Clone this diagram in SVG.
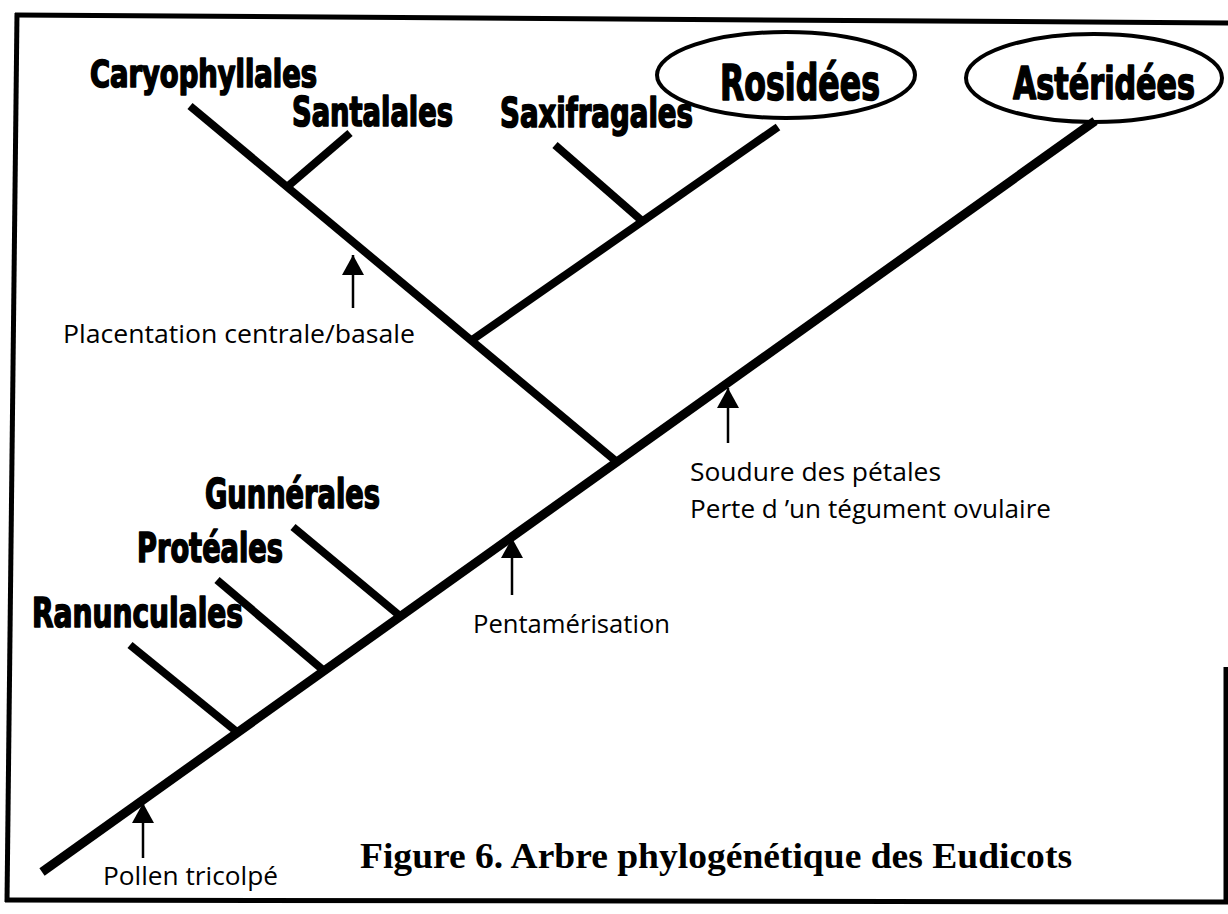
<svg xmlns="http://www.w3.org/2000/svg" width="1228" height="914" viewBox="0 0 1228 914">
<defs>
<marker id="ah" markerUnits="userSpaceOnUse" markerWidth="22" markerHeight="24" refX="20" refY="11" orient="auto">
<path d="M0,0 L20,11 L0,22 z" fill="#000"/>
</marker>
<style>
.br{stroke:#000;stroke-width:8;stroke-linecap:butt;fill:none}
.main{stroke:#000;stroke-width:9;fill:none}
.bd{stroke:#000;stroke-width:5;fill:none}
.ar{stroke:#000;stroke-width:2.5;fill:none;marker-end:url(#ah)}
.big{font-family:"Liberation Sans Narrow","DejaVu Sans Condensed","Liberation Sans",sans-serif;font-weight:bold;fill:#000;stroke:#000;stroke-width:1.6;stroke-linejoin:round}
.sm{font-family:"Open Sans","Liberation Sans",sans-serif;font-size:25px;fill:#000}
.ttl{font-family:"Liberation Serif",serif;font-weight:bold;font-size:36px;fill:#000}
.el{fill:none;stroke:#000;stroke-width:4}
</style>
</defs>
<rect width="1228" height="914" fill="#fff"/>
<g id="border">
<path class="bd" d="M15,15 L1228,23"/>
<path class="bd" d="M17,13 L7,902"/>
<path class="bd" d="M5,900 L1228,902"/>
<path class="bd" d="M1226,667 L1226,902"/>
</g>
<g id="connectors">
<line class="main" x1="42" y1="872" x2="1095" y2="121"/>
<line class="br" x1="190" y1="106" x2="617" y2="462"/>
<line class="br" x1="350" y1="133" x2="287" y2="187"/>
<line class="br" x1="778" y1="127" x2="472" y2="340"/>
<line class="br" x1="555" y1="145" x2="641" y2="220"/>
<line class="br" x1="293" y1="527" x2="400" y2="616"/>
<line class="br" x1="217" y1="580" x2="323" y2="670"/>
<line class="br" x1="130" y1="645" x2="237" y2="732"/>
</g>
<g id="arrows">
<line class="ar" x1="353" y1="308" x2="353" y2="255"/>
<line class="ar" x1="728" y1="443" x2="728" y2="388"/>
<line class="ar" x1="512" y1="595" x2="512" y2="538"/>
<line class="ar" x1="143" y1="858" x2="143" y2="803"/>
</g>
<g id="caryophyllales"><text class="big" x="90" y="87" font-size="37" textLength="227" lengthAdjust="spacingAndGlyphs">Caryophyllales</text></g>
<g id="santalales"><text class="big" x="292" y="126" font-size="40" textLength="161" lengthAdjust="spacingAndGlyphs">Santalales</text></g>
<g id="saxifragales"><text class="big" x="500" y="127" font-size="40" textLength="193" lengthAdjust="spacingAndGlyphs">Saxifragales</text></g>
<g id="rosidees">
<ellipse class="el" cx="786" cy="75" rx="129" ry="43"/>
<text class="big" x="720" y="100" font-size="50" textLength="160" lengthAdjust="spacingAndGlyphs">Rosidées</text>
</g>
<g id="asteridees">
<ellipse class="el" cx="1094" cy="78" rx="128" ry="44"/>
<text class="big" x="1013" y="99" font-size="45" textLength="182" lengthAdjust="spacingAndGlyphs">Astéridées</text>
</g>
<g id="gunnerales"><text class="big" x="205" y="508" font-size="41" textLength="175" lengthAdjust="spacingAndGlyphs">Gunnérales</text></g>
<g id="proteales"><text class="big" x="137" y="562" font-size="41" textLength="146" lengthAdjust="spacingAndGlyphs">Protéales</text></g>
<g id="ranunculales"><text class="big" x="32" y="627" font-size="41" textLength="211" lengthAdjust="spacingAndGlyphs">Ranunculales</text></g>
<g id="placentation"><text class="sm" x="63" y="343" textLength="352" lengthAdjust="spacingAndGlyphs">Placentation centrale/basale</text></g>
<g id="soudure">
<text class="sm" x="690" y="481" textLength="251" lengthAdjust="spacingAndGlyphs">Soudure des pétales</text>
<text class="sm" x="690" y="518" textLength="361" lengthAdjust="spacingAndGlyphs">Perte d ’un tégument ovulaire</text>
</g>
<g id="pentamerisation"><text class="sm" x="473" y="633" textLength="197" lengthAdjust="spacingAndGlyphs">Pentamérisation</text></g>
<g id="pollen"><text class="sm" x="103" y="885" textLength="175" lengthAdjust="spacingAndGlyphs">Pollen tricolpé</text></g>
<g id="title"><text class="ttl" x="360" y="868" textLength="712" lengthAdjust="spacingAndGlyphs">Figure 6. Arbre phylogénétique des Eudicots</text></g>
</svg>
